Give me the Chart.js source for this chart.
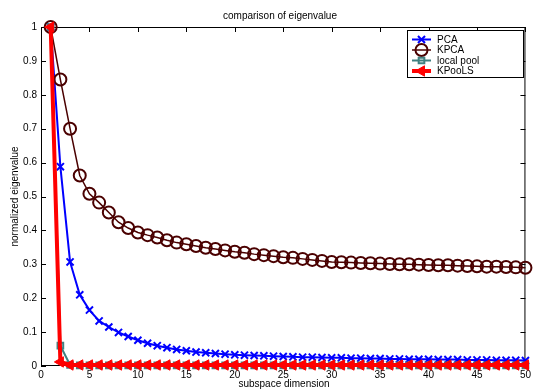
<!DOCTYPE html>
<html><head><meta charset="utf-8">
<script src="https://cdn.jsdelivr.net/npm/chart.js@4"></script>
<style>html,body{margin:0;padding:0;background:#fff}canvas{display:block}</style>
</head><body>
<canvas id="c" width="534" height="392"></canvas>
<script>
const titleText = 'comparison of eigenvalue';
const xTitle = 'subspace dimension';
const yTitle = 'normalized eigenvalue';
const seriesNames = ['PCA', 'KPCA', 'local pool', 'KPooLS'];
const dims = [1,2,3,4,5,6,7,8,9,10,11,12,13,14,15,16,17,18,19,20,21,22,23,24,25,26,27,28,29,30,31,32,33,34,35,36,37,38,39,40,41,42,43,44,45,46,47,48,49,50];
const pca = [1,0.588,0.307,0.21,0.165,0.133,0.115,0.099,0.087,0.076,0.067,0.06,0.054,0.049,0.045,0.041,0.039,0.037,0.035,0.033,0.032,0.031,0.03,0.029,0.028,0.027,0.026,0.026,0.025,0.024,0.024,0.023,0.023,0.022,0.022,0.021,0.021,0.02,0.02,0.02,0.019,0.019,0.019,0.018,0.018,0.018,0.017,0.017,0.017,0.016];
const kpca = [1,0.845,0.7,0.562,0.508,0.482,0.453,0.424,0.407,0.394,0.386,0.379,0.371,0.364,0.359,0.354,0.349,0.345,0.341,0.337,0.334,0.33,0.327,0.324,0.321,0.319,0.316,0.313,0.31,0.307,0.306,0.305,0.304,0.303,0.302,0.301,0.3,0.3,0.299,0.298,0.297,0.297,0.296,0.295,0.294,0.293,0.293,0.292,0.291,0.29];
const localPool = [1,0.06,0.003,0.002,0.002,0.002,0.002,0.002,0.002,0.002,0.002,0.002,0.002,0.002,0.002,0.002,0.002,0.002,0.002,0.002,0.002,0.002,0.002,0.002,0.002,0.002,0.002,0.002,0.002,0.002,0.002,0.002,0.002,0.002,0.002,0.002,0.002,0.002,0.002,0.002,0.002,0.002,0.002,0.002,0.002,0.002,0.002,0.002,0.002,0.002];
const kpools = [1,0.012,0.003,0.003,0.003,0.003,0.003,0.003,0.003,0.003,0.003,0.003,0.003,0.003,0.003,0.003,0.003,0.003,0.003,0.003,0.003,0.003,0.003,0.003,0.003,0.003,0.003,0.003,0.003,0.003,0.003,0.003,0.003,0.003,0.003,0.003,0.003,0.003,0.003,0.003,0.003,0.003,0.003,0.003,0.003,0.003,0.003,0.003,0.003,0.003];
const xTicks = [0,5,10,15,20,25,30,35,40,45,50];
const yTicks = [0,0.1,0.2,0.3,0.4,0.5,0.6,0.7,0.8,0.9,1];

const FONT = 'Arial, "Liberation Sans", sans-serif';
const pts = arr => dims.map((d, i) => ({x: d, y: arr[i]}));

const framePlugin = {
  id: 'frame',
  beforeDatasetsDraw(chart) {
    const ctx = chart.ctx, a = chart.chartArea;
    const xs = chart.scales.x, ys = chart.scales.y;
    ctx.save();
    ctx.strokeStyle = '#000';
    ctx.lineWidth = 1;
    ctx.strokeRect(a.left + 0.5, a.top + 0.5, a.right - a.left - 1, a.bottom - a.top - 1);
    ctx.beginPath();
    const tl = 5;
    xTicks.forEach(v => {
      const px = Math.round(xs.getPixelForValue(v)) + 0.5;
      ctx.moveTo(px, a.bottom); ctx.lineTo(px, a.bottom - tl);
      ctx.moveTo(px, a.top); ctx.lineTo(px, a.top + tl);
    });
    yTicks.forEach(v => {
      const py = Math.round(ys.getPixelForValue(v)) + 0.5;
      ctx.moveTo(a.left, py); ctx.lineTo(a.left + tl, py);
      ctx.moveTo(a.right, py); ctx.lineTo(a.right - tl, py);
    });
    ctx.stroke();
    ctx.restore();
  },
  afterDraw(chart) {
    const ctx = chart.ctx, a = chart.chartArea;
    ctx.save();
    ctx.fillStyle = '#000';
    ctx.font = '10px ' + FONT;
    ctx.textAlign = 'center';
    ctx.textBaseline = 'middle';
    ctx.fillText(titleText, 280, 16);
    ctx.fillText(xTitle, 284, 384);
    ctx.save();
    ctx.translate(15, (a.top + a.bottom) / 2);
    ctx.rotate(-Math.PI / 2);
    ctx.fillText(yTitle, 0, 0);
    ctx.restore();
    // legend
    const bx = 407, by = 30, bw = 116, bh = 47;
    ctx.fillStyle = '#fff';
    ctx.fillRect(bx, by, bw, bh);
    ctx.strokeStyle = '#000';
    ctx.lineWidth = 1;
    ctx.strokeRect(bx + 0.5, by + 0.5, bw, bh);
    const rows = [39.5, 50, 60.5, 71];
    chart.data.datasets.forEach((ds, i) => {
      const y = rows[i];
      ctx.strokeStyle = ds.borderColor;
      ctx.lineWidth = ds.borderWidth;
      ctx.beginPath(); ctx.moveTo(412, y); ctx.lineTo(431, y); ctx.stroke();
      ctx.fillStyle = ds.pointBackgroundColor;
      ctx.strokeStyle = ds.pointBorderColor;
      ctx.lineWidth = ds.pointBorderWidth;
      Chart.helpers.drawPoint(ctx, {pointStyle: ds.pointStyle, rotation: ds.pointRotation || 0, radius: ds.pointRadius, borderWidth: ds.pointBorderWidth}, 421.5, y);
      ctx.fillStyle = '#000';
      ctx.font = '10px ' + FONT;
      ctx.textAlign = 'left';
      ctx.fillText(seriesNames[i], 437, y + 0.5);
    });
    ctx.restore();
  }
};

new Chart(document.getElementById('c'), {
  type: 'line',
  data: {
    datasets: [
      {label: seriesNames[0], data: pts(pca), borderColor: '#0000ff', borderWidth: 2,
       pointStyle: 'crossRot', pointRadius: 5, pointBorderWidth: 2, pointBorderColor: '#0000ff',
       pointBackgroundColor: 'rgba(0,0,0,0)', order: 3, clip: false},
      {label: seriesNames[1], data: pts(kpca), borderColor: '#4a0000', borderWidth: 1.5,
       pointStyle: 'circle', pointRadius: 6, pointBorderWidth: 2, pointBorderColor: '#4a0000',
       pointBackgroundColor: 'rgba(0,0,0,0)', order: 2, clip: false},
      {label: seriesNames[2], data: pts(localPool), borderColor: '#408080', borderWidth: 2,
       pointStyle: 'rect', pointRadius: 4, pointBorderWidth: 2, pointBorderColor: '#408080',
       pointBackgroundColor: 'rgba(0,0,0,0)', order: 1, clip: false},
      {label: seriesNames[3], data: pts(kpools), borderColor: '#ff0000', borderWidth: 4,
       pointStyle: 'triangle', pointRotation: -90, pointRadius: 6, pointBorderWidth: 1, pointBorderColor: '#ff0000',
       pointBackgroundColor: '#ff0000', order: 0, clip: false}
    ]
  },
  options: {
    responsive: false, animation: false, devicePixelRatio: 1,
    layout: {padding: {left: 0, right: 3, top: 27, bottom: 0}},
    elements: {line: {tension: 0}},
    plugins: {legend: {display: false}, tooltip: {enabled: false}, title: {display: false}},
    scales: {
      x: {type: 'linear', min: 0, max: 50,
          afterBuildTicks: s => { s.ticks = xTicks.map(v => ({value: v})); },
          afterFit: s => { s.height = 26; },
          ticks: {font: {size: 10, family: FONT}, color: '#000', padding: 3, maxRotation: 0, autoSkip: false},
          grid: {display: false, drawTicks: false}, border: {display: false}},
      y: {type: 'linear', min: 0, max: 1,
          afterBuildTicks: s => { s.ticks = yTicks.map(v => ({value: v})); },
          afterFit: s => { s.width = 41; },
          ticks: {font: {size: 10, family: FONT}, color: '#000', padding: 4, autoSkip: false,
                  callback: v => String(+v.toFixed(1))},
          grid: {display: false, drawTicks: false}, border: {display: false}}
    }
  },
  plugins: [framePlugin]
});
</script>
</body></html>
